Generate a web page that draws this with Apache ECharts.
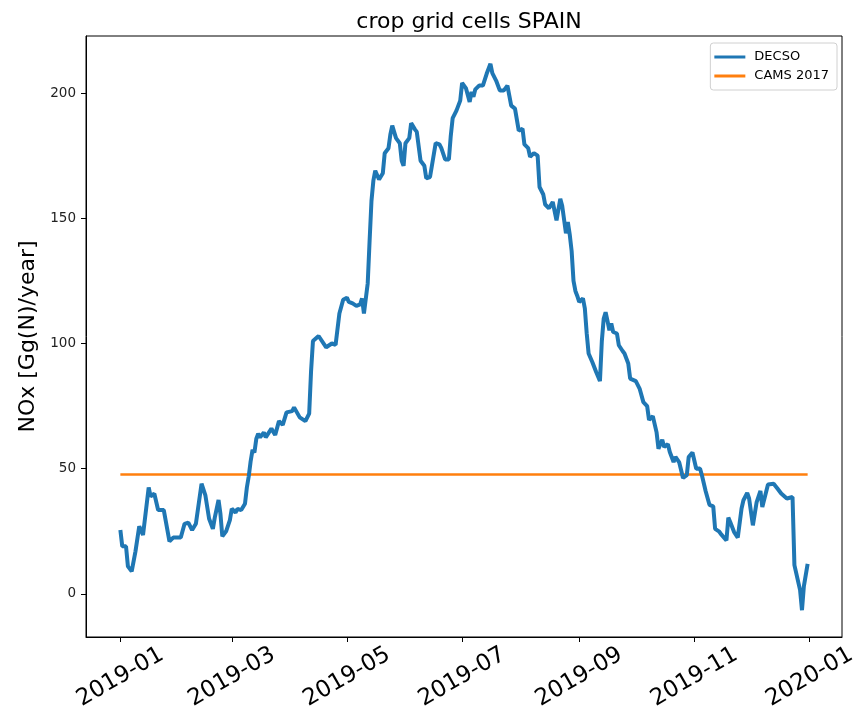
<!DOCTYPE html>
<html>
<head>
<meta charset="utf-8">
<script src="https://cdn.jsdelivr.net/npm/echarts@6/dist/echarts.min.js"></script>
<style>
  html, body { margin: 0; padding: 0; background: #fff; }
  #chart { width: 868px; height: 721px; }
</style>
</head>
<body>
<div id="chart"></div>
<script>
// day of 2019 (0 = 1 Jan) and DECSO NOx value
var decsoDays = [0, 1, 3, 4, 6, 8, 10, 12, 15, 16, 18, 20, 23, 26, 28, 32, 34, 36, 38, 40,
  41, 43, 45, 47, 49, 50, 52, 53, 54, 56, 58, 59, 61, 62, 64, 66, 67, 68, 69, 70,
  71, 72, 73, 74, 76, 77, 80, 82, 84, 86, 88, 91, 92, 95, 98, 100, 101, 102, 105, 106,
  109, 110, 112, 114, 116, 118, 120, 121, 123, 125, 127, 128, 129, 131, 132, 133, 134, 135, 137, 139,
  140, 142, 143, 144, 146, 148, 149, 150, 151, 153, 154, 156, 157, 159, 161, 162, 164, 165, 167, 169,
  170, 172, 174, 175, 176, 178, 180, 181, 183, 185, 186, 187, 188, 190, 192, 194, 196, 197, 199, 201,
  203, 205, 206, 207, 209, 211, 213, 214, 216, 217, 219, 221, 222, 224, 225, 227, 229, 230, 231, 233,
  234, 236, 237, 238, 239, 240, 241, 242, 243, 245, 246, 247, 248, 250, 252, 253, 254, 255, 256, 257,
  258, 259, 260, 261, 263, 264, 266, 267, 269, 270, 273, 275, 277, 279, 280, 282, 284, 285, 287, 288,
  290, 291, 293, 294, 296, 298, 300, 301, 303, 304, 305, 307, 308, 310, 312, 314, 315, 317, 318, 319,
  321, 322, 323, 325, 327, 329, 330, 332, 333, 335, 337, 339, 340, 341, 343, 344, 346, 348, 350, 353,
  354, 356, 357, 358, 360, 361, 362, 364];
var decsoValues = [25.5, 19, 19, 11, 9, 17, 27, 23.5, 42.5, 39, 40, 33.5, 33.5, 21, 22.5, 22.5, 28, 28.5, 25.5, 28,
  28.5, 44, 39.5, 30, 26, 30.5, 37.5, 32, 23, 25, 29.5, 34, 32.5, 34, 33.5, 36, 42.5, 47, 53, 57.5,
  56.5, 62, 64, 62.5, 64.5, 62.5, 66, 63.5, 69, 67.5, 72.5, 73, 74.5, 70.5, 69, 72, 89, 101, 103, 103,
  98.5, 99, 100, 99.5, 112, 117.5, 118.3, 116.6, 116, 115, 115.6, 118, 112, 124, 141, 157, 165, 169, 165.5, 168,
  176, 178, 183.5, 187, 182, 180, 173, 171, 180, 182, 188, 185.5, 184.5, 173, 171, 166, 166.5, 171, 180, 179.5,
  178, 173.5, 173.5, 183, 190, 193, 197, 204, 202, 196.5, 200.5, 198.5, 201.5, 203, 203, 207.7, 211.7, 208, 205, 201,
  201, 203, 199, 195, 193.8, 185, 185.8, 179.5, 178, 174.5, 176, 175, 162.5, 159.5, 155.5, 154, 156.5, 157, 149.2, 157.8,
  155, 144, 148.5, 143.5, 137, 125, 121, 119, 116.6, 118, 114, 104, 96, 92.5, 88.6, 88, 85, 101, 110, 112.5,
  109, 105.3, 108, 104.6, 104, 99.3, 97, 96, 92, 86, 85, 82, 76.6, 75, 69.5, 71, 64.5, 58, 61.6, 58.7,
  59.8, 56.7, 52.7, 54.7, 52.5, 46.3, 47.4, 54.7, 56.5, 57, 50, 50.1, 47.4, 41, 35.6, 35, 26, 25, 24, 23.4,
  21.4, 30.5, 28.7, 24.8, 22.5, 34.1, 37.4, 40.3, 38.1, 27.4, 36.7, 41.1, 34.7, 34.7, 43.7, 43.4, 44, 42.1, 40.1, 38.1,
  37.4, 38.7, 11.5, 11.1, 1.5, -6.5, 3, 12];

// CAMS 2017 constant level
var camsDays = [0, 364];
var camsValues = [47.7, 47.7];

// month-start ticks, as day offsets from 1 Jan 2019
var xTickDays = [0, 59, 120, 181, 243, 304, 365];
var xTickLabels = ["2019-01", "2019-03", "2019-05", "2019-07", "2019-09", "2019-11", "2020-01"];
var yTicks = [0, 50, 100, 150, 200];

function pairs(days, vals) {
  return days.map(function (d, i) { return [d, vals[i]]; });
}

var font = "DejaVu Sans";
var chart = echarts.init(document.getElementById("chart"));
chart.setOption({
  backgroundColor: "#fff",
  animation: false,
  textStyle: { fontFamily: font },
  title: {
    text: "crop grid cells SPAIN",
    left: 464,
    textAlign: "center",
    top: 6,
    textStyle: { fontFamily: font, fontSize: 22, fontWeight: "normal", color: "#000" }
  },
  legend: {
    orient: "vertical",
    right: 31,
    top: 43,
    padding: [6, 8, 6, 4],
    itemGap: 3,
    icon: "rect",
    itemWidth: 31,
    itemHeight: 3,
    borderColor: "#d0d0d0",
    borderWidth: 1,
    borderRadius: 3,
    backgroundColor: "rgba(255,255,255,0.8)",
    textStyle: { fontFamily: font, fontSize: 13, color: "#000", padding: [0, 0, 0, 4], lineHeight: 16 },
    data: ["DECSO", "CAMS 2017"]
  },
  grid: {
    left: 86, right: 26, top: 36, bottom: 84,
    show: true, borderColor: "#000", borderWidth: 1
  },
  xAxis: {
    type: "value",
    min: -18.2,
    max: 382.2,
    splitLine: { show: false },
    axisLine: { show: true, onZero: false, lineStyle: { color: "#000" } },
    axisTick: { show: true, length: 5, lineStyle: { color: "#000" }, customValues: xTickDays },
    axisLabel: {
      customValues: xTickDays,
      rotate: 30,
      align: "center",
      verticalAlign: "middle",
      margin: 40,
      fontFamily: font,
      fontSize: 23,
      color: "#000",
      formatter: function (v) {
        var i = xTickDays.indexOf(Math.round(v));
        return i >= 0 ? xTickLabels[i] : "";
      }
    }
  },
  yAxis: {
    type: "value",
    min: -17.2,
    max: 222.8,
    name: "NOx [Gg(N)/year]",
    nameLocation: "middle",
    nameGap: 41,
    nameTextStyle: { fontFamily: font, fontSize: 22, color: "#000" },
    splitLine: { show: false },
    axisLine: { show: true, onZero: false, lineStyle: { color: "#000" } },
    axisTick: { show: true, length: 5, lineStyle: { color: "#000" }, customValues: yTicks },
    axisLabel: { customValues: yTicks, margin: 10, fontFamily: font, fontSize: 13.5, color: "#222" }
  },
  series: [
    {
      name: "DECSO",
      type: "line",
      symbol: "none",
      color: "#1f77b4",
      lineStyle: { width: 4, color: "#1f77b4" },
      data: pairs(decsoDays, decsoValues),
      z: 3
    },
    {
      name: "CAMS 2017",
      type: "line",
      symbol: "none",
      color: "#ff7f0e",
      lineStyle: { width: 2.6, color: "#ff7f0e" },
      data: pairs(camsDays, camsValues),
      z: 2
    }
  ]
});
</script>
</body>
</html>
